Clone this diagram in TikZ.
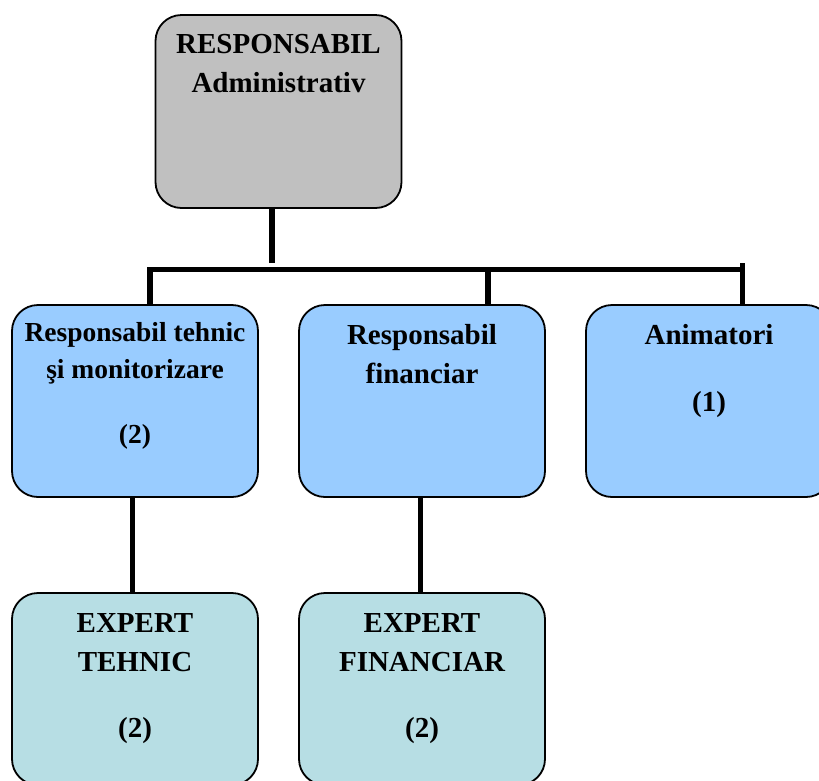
\documentclass[tikz,border=0pt]{standalone}
\usepackage{fontspec}
\setmainfont{Liberation Serif}
\usepackage{xcolor}
\usetikzlibrary{positioning}
\definecolor{admgray}{HTML}{C0C0C0}
\definecolor{roleblue}{HTML}{99CCFF}
\definecolor{expertteal}{HTML}{B7DEE4}

\begin{document}
\begin{tikzpicture}[
  x=1pt, y=-1pt,
  node distance=41pt and 41pt,
  every node/.style={font=\fontsize{29}{39}\selectfont\bfseries},
  unit/.style={draw, line width=1.8pt, rounded corners=26pt, minimum width=246pt, minimum height=192pt, inner sep=0pt, outer sep=0pt},
  chief/.style={unit, fill=admgray, minimum height=193pt},
  role/.style={unit, fill=roleblue},
  expert/.style={unit, fill=expertteal},
  txt/.style={align=center, inner sep=0pt},
  link/.style={line width=5.8pt}
]
\useasboundingbox (0,0) rectangle (819,780);

\node[chief] (adm) at (278.5,111.5) {};
\node[role] (tech) at (135,401) {};
\node[role, right=of tech] (fin) {};
\node[role, right=of fin] (anim) {};
\node[expert, below=96pt of tech] (exptech) {};
\node[expert, below=96pt of fin] (expfin) {};

\node[txt, below=19pt of adm.north] (adm-txt) {RESPONSABIL\\Administrativ};
\node[txt, below=17pt of tech.north, font=\fontsize{27.5}{37}\selectfont\bfseries] (tech-txt) {Responsabil tehnic\\şi monitorizare\\[28pt](2)};
\node[txt, below=19pt of fin.north] (fin-txt) {Responsabil\\financiar};
\node[txt, below=19pt of anim.north] (anim-txt) {Animatori\\[28pt](1)};
\node[txt, below=20pt of exptech.north] (exptech-txt) {EXPERT\\TEHNIC\\[27pt](2)};
\node[txt, below=20pt of expfin.north] (expfin-txt) {EXPERT\\FINANCIAR\\[27pt](2)};

% bus line
\coordinate (busL) at (150,269.5);
\coordinate (busM) at (488,269.5);
\coordinate (busR) at (742.5,269.5);
\coordinate (busTop) at (272,263);
\coordinate (animTop) at (742.5,263);

\draw[link] (adm.south -| busTop) -- (busTop);
\draw[link] (tech.north -| busL) -- (busL) -- (busR);
\draw[link] (fin.north -| busM) -- (busM);
\draw[link] (anim.north -| animTop) -- (animTop);
\draw[link] ([xshift=-2.5pt]tech.south) -- ([xshift=-2.5pt]exptech.north);
\draw[link] ([xshift=-1.5pt]fin.south) -- ([xshift=-1.5pt]expfin.north);
\end{tikzpicture}
\end{document}
